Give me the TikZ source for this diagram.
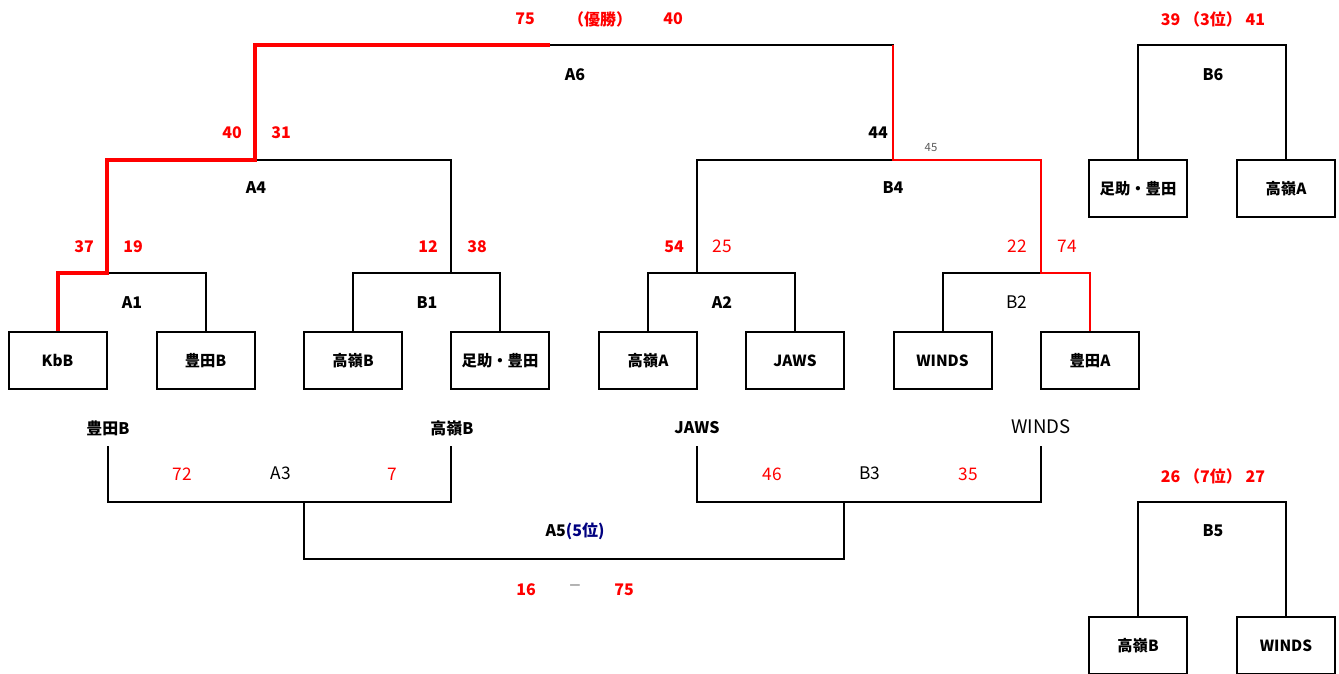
\documentclass[tikz,border=0pt]{standalone}
\usepackage{fontspec}
\setmainfont{Noto Sans CJK JP}
\definecolor{navyc}{RGB}{0,0,128}
\definecolor{grayc}{RGB}{90,90,90}
\begin{document}
\begin{tikzpicture}[x=0.75pt,y=-0.75pt,
  teambox/.style={draw=black,line width=1.5pt,minimum width=73.5pt,minimum height=42.75pt,inner sep=0pt,font=\fontsize{11.5}{12}\selectfont\bfseries},
  br/.style={draw=black,line width=1.5pt},
  win/.style={draw=red,line width=3pt},
  winb/.style={draw=red,line width=2.2pt},
  sc/.style={text=red,font=\fontsize{12}{12}\selectfont\bfseries,inner sep=0pt},
  scn/.style={text=red,font=\fontsize{13}{13}\selectfont,inner sep=0pt},
  lb/.style={text=black,font=\fontsize{12}{12}\selectfont\bfseries,inner sep=0pt},
  lbn/.style={text=black,font=\fontsize{13}{13}\selectfont,inner sep=0pt}]
\useasboundingbox (0,0) rectangle (1339,674);
% team boxes
\node[teambox] (kbb) at (57.5,360.5) {KbB};
\node[teambox] (toyB) at (205.5,360.5) {豊田B};
\node[teambox] (takB) at (353,360.5) {高嶺B};
\node[teambox] (asu) at (500,360.5) {足助・豊田};
\node[teambox] (takA) at (648,360.5) {高嶺A};
\node[teambox] (jaws) at (795,360.5) {JAWS};
\node[teambox] (winds) at (942.5,360.5) {WINDS};
\node[teambox] (toyA) at (1090,360.5) {豊田A};
\node[teambox] (asu6) at (1138,188.5) {足助・豊田};
\node[teambox] (takA6) at (1286,188.5) {高嶺A};
\node[teambox] (takB5) at (1138,645.5) {高嶺B};
\node[teambox] (winds5) at (1286,645.5) {WINDS};
% junctions
\coordinate (a1) at (107,273);
\coordinate (b1) at (451,273);
\coordinate (a2) at (697,273);
\coordinate (b2) at (1041,273);
\coordinate (a4) at (255,160);
\coordinate (b4) at (893,160);
\coordinate (a6) at (550,45);
\coordinate (b6) at (1213,45);
\coordinate (b5) at (1213,502);
% bracket lines (black)
\draw[br] (a1) -| (toyB.north);
\draw[br] (takB.north) |- (b1) -| (asu.north);
\draw[br] (a4) -| (b1);
\draw[br] (takA.north) |- (a2) -| (jaws.north);
\draw[br] (a2) |- (b4);
\draw[br] (winds.north) |- (b2);
\draw[br] (a6) -| (b4);
\draw[br] (asu6.north) |- (b6) -| (takA6.north);
\draw[br] (takB5.north) |- (b5) -| (winds5.north);
% winner path (red)
\draw[win,line join=miter] (kbb.north) |- (a1) |- (a4) |- (a6);
\draw[winb,line join=miter] (893,45) -- (b4) -| (b2) -| (toyA.north);
% round labels
\node[lb] (lA6) at (575,75) {A6};
\node[lb] (lA4) at (256,188) {A4};
\node[lb] (lB4) at (893,188) {B4};
\node[lb] (lA1) at (132,303) {A1};
\node[lb] (lB1) at (427,303) {B1};
\node[lb] (lA2) at (722,303) {A2};
\node[lbn] (lB2) at (1017,302) {B2};
\node[lb] (lB6) at (1213,75) {B6};
\node[lb] (lB5) at (1213,531) {B5};
% scores
\node[sc] (s1) at (525,19) {75};
\node[sc] (s2) at (600,19) {（優勝）};
\node[sc] (s3) at (673,19) {40};
\node[sc] (s4) at (232,133) {40};
\node[sc] (s5) at (281,133) {31};
\node[lb] (s6) at (878,133) {44};
\node[text=grayc,font=\fontsize{8.5}{9}\selectfont,inner sep=0pt] (s7) at (931,148) {45};
\node[sc] (s8) at (84,247) {37};
\node[sc] (s9) at (133,247) {19};
\node[sc] (s10) at (428,247) {12};
\node[sc] (s11) at (477,247) {38};
\node[sc] (s12) at (674,247) {54};
\node[scn] (s13) at (722,246) {25};
\node[scn] (s14) at (1017,246) {22};
\node[scn] (s15) at (1067,246) {74};
\node[sc] (s16) at (1213,19) {39 （3位） 41};
\node[sc] (s17) at (1213,476) {26 （7位） 27};
% consolation bracket
\node[lb] (t1) at (108,428) {豊田B};
\node[lb] (t2) at (452,428) {高嶺B};
\node[lb] (t3) at (697,428) {JAWS};
\node[lbn,font=\fontsize{14}{14}\selectfont] (t4) at (1041,427) {WINDS};
\coordinate (c1) at (108,446);
\coordinate (c2) at (451,446);
\coordinate (c3) at (697,446);
\coordinate (c4) at (1041,446);
\coordinate (a3) at (304,502);
\coordinate (b3) at (844,502);
\coordinate (a5) at (575,559);
\draw[br] (c1) |- (a3) -| (c2);
\draw[br] (c3) |- (b3) -| (c4);
\draw[br] (a3) |- (a5) -| (b3);
\node[scn] (s18) at (182,474) {72};
\node[lbn] (lA3) at (281,473) {A3};
\node[scn] (s19) at (392,474) {7};
\node[scn] (s20) at (772,474) {46};
\node[lbn] (lB3) at (870,473) {B3};
\node[scn] (s21) at (968,474) {35};
\node[lb] (lA5) at (575,531) {A5\textcolor{navyc}{(5位)}};
\node[sc] (s22) at (526,590) {16};
\node[text=grayc,font=\fontsize{10}{10}\selectfont,inner sep=0pt] (dash) at (575,588) {－};
\node[sc] (s23) at (624,590) {75};
\end{tikzpicture}
\end{document}
